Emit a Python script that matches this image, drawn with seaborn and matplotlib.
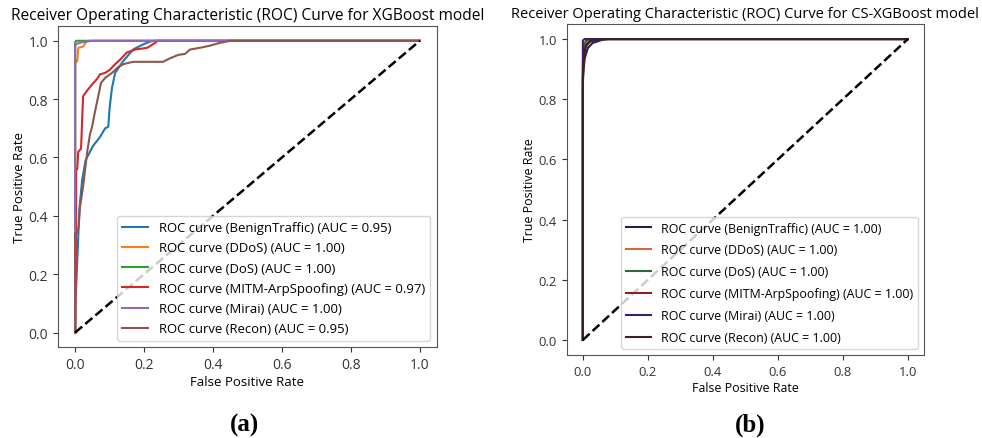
import numpy as np
import pandas as pd
import matplotlib
matplotlib.use("Agg")
import matplotlib.pyplot as plt
import seaborn as sns

classes = ["BenignTraffic", "DDoS", "DoS", "MITM-ArpSpoofing", "Mirai", "Recon"]

# Panel (a): XGBoost
auc_a = [0.95, 1.00, 1.00, 0.97, 1.00, 0.95]
fpr_a_benign = [0, 0.0, 0.003, 0.008, 0.012, 0.02, 0.03, 0.052, 0.072, 0.087, 0.096, 0.10, 0.107, 0.116, 0.136, 0.15, 0.168, 0.194, 0.217, 0.23, 1.0]
tpr_a_benign = [0, 0.10, 0.16, 0.30, 0.42, 0.52, 0.59, 0.64, 0.67, 0.70, 0.705, 0.77, 0.84, 0.89, 0.925, 0.945, 0.97, 0.986, 0.997, 1.0, 1.0]
fpr_a_ddos = [0, 0, 0.003, 0.006, 0.009, 0.023, 0.03, 0.035, 1.0]
tpr_a_ddos = [0, 0.92, 0.93, 0.93, 0.976, 0.98, 0.993, 1.0, 1.0]
fpr_a_dos = [0, 0, 0.003, 1.0]
tpr_a_dos = [0, 0.995, 1.0, 1.0]
fpr_a_mitm = [0, 0.002, 0.003, 0.006, 0.009, 0.017, 0.023, 0.035, 0.049, 0.064, 0.072, 0.087, 0.10, 0.116, 0.13, 0.15, 0.174, 0.209, 0.232, 0.24, 1.0]
tpr_a_mitm = [0, 0.20, 0.56, 0.56, 0.62, 0.63, 0.81, 0.83, 0.85, 0.87, 0.885, 0.89, 0.90, 0.92, 0.935, 0.96, 0.97, 0.976, 0.993, 1.0, 1.0]
fpr_a_mirai = [0, 0, 0.006, 0.02, 0.05, 1.0]
tpr_a_mirai = [0, 0.985, 0.99, 0.995, 1.0, 1.0]
fpr_a_recon = [0, 0, 0.005, 0.01, 0.014, 0.023, 0.03, 0.035, 0.043, 0.049, 0.058, 0.067, 0.075, 0.087, 0.107, 0.125, 0.14, 0.168, 0.209, 0.255, 0.275, 0.30, 0.319, 0.333, 0.362, 0.39, 0.42, 0.45, 1.0]
tpr_a_recon = [0, 0.34, 0.34, 0.36, 0.43, 0.50, 0.57, 0.62, 0.68, 0.705, 0.76, 0.81, 0.856, 0.873, 0.89, 0.91, 0.92, 0.928, 0.928, 0.928, 0.94, 0.952, 0.955, 0.97, 0.976, 0.983, 0.993, 1.0, 1.0]

# Panel (b): CS-XGBoost
auc_b = [1.00, 1.00, 1.00, 1.00, 1.00, 1.00]
fpr_b_benign = [0, 0, 0.002, 0.006, 0.015, 0.03, 0.058, 0.08, 1.0]
tpr_b_benign = [0, 0.85, 0.90, 0.937, 0.97, 0.987, 0.997, 1.0, 1.0]
fpr_b_ddos = [0, 0, 0.004, 0.012, 0.03, 1.0]
tpr_b_ddos = [0, 0.90, 0.97, 0.99, 1.0, 1.0]
fpr_b_dos = [0, 0, 0.003, 0.01, 0.025, 1.0]
tpr_b_dos = [0, 0.92, 0.98, 0.995, 1.0, 1.0]
fpr_b_mitm = [0, 0, 0.006, 0.02, 0.05, 1.0]
tpr_b_mitm = [0, 0.88, 0.97, 0.99, 1.0, 1.0]
fpr_b_mirai = [0, 0, 0.005, 1.0]
tpr_b_mirai = [0, 0.995, 1.0, 1.0]
fpr_b_recon = [0, 0, 0.004, 0.01, 0.025, 0.06, 1.0]
tpr_b_recon = [0, 0.87, 0.95, 0.98, 0.995, 1.0, 1.0]

colors_a = ["#1f77b4", "#ff7f0e", "#2ca02c", "#d62728", "#9467bd", "#8c564b"]
colors_b = ["#1b1f4b", "#d2693a", "#2e6b35", "#8b2323", "#3b1a78", "#3b2222"]

curves_a = [(fpr_a_benign, tpr_a_benign), (fpr_a_ddos, tpr_a_ddos), (fpr_a_dos, tpr_a_dos),
            (fpr_a_mitm, tpr_a_mitm), (fpr_a_mirai, tpr_a_mirai), (fpr_a_recon, tpr_a_recon)]
curves_b = [(fpr_b_benign, tpr_b_benign), (fpr_b_ddos, tpr_b_ddos), (fpr_b_dos, tpr_b_dos),
            (fpr_b_mitm, tpr_b_mitm), (fpr_b_mirai, tpr_b_mirai), (fpr_b_recon, tpr_b_recon)]


def build_df(curves, aucs):
    rows = []
    for cls, (f, t), a in zip(classes, curves, aucs):
        lab = f"ROC curve ({cls}) (AUC = {a:.2f})"
        for i, (fx, ty) in enumerate(zip(f, t)):
            rows.append({"label": lab, "fpr": fx, "tpr": ty, "order": i})
    return pd.DataFrame(rows)


plt.rcParams["font.family"] = ["Open Sans", "DejaVu Sans"]
fig = plt.figure(figsize=(9.82, 4.39), dpi=100)
ax_a = fig.add_axes([0.059, 0.207, 0.386, 0.731])
ax_b = fig.add_axes([0.577, 0.189, 0.364, 0.754])


def draw(ax, curves, aucs, colors, title, s, lsp):
    df = build_df(curves, aucs)
    labels = list(dict.fromkeys(df["label"]))
    sns.lineplot(data=df, x="fpr", y="tpr", hue="label", hue_order=labels,
                 palette=colors, sort=False, estimator=None, units="label",
                 linewidth=1.5, ax=ax)
    sns.lineplot(x=[0, 1], y=[0, 1], color="black", linestyle="--", linewidth=1.8, ax=ax)
    ax.set_xlim(-0.05, 1.05)
    ax.set_ylim(-0.05, 1.05)
    ax.set_xticks([0, 0.2, 0.4, 0.6, 0.8, 1.0])
    ax.set_yticks([0, 0.2, 0.4, 0.6, 0.8, 1.0])
    ax.set_xlabel("False Positive Rate", fontsize=9.5 * s, labelpad=2)
    ax.set_ylabel("True Positive Rate", fontsize=9.5 * s, labelpad=2)
    ax.set_title(title, fontsize=11.2 * s, pad=5)
    ax.tick_params(labelsize=10 * s, colors="#333333")
    for sp in ax.spines.values():
        sp.set_color("#555555")
    sns.move_legend(ax, "lower right", title=None, fontsize=9.45 * s, labelspacing=lsp)


draw(ax_a, curves_a, auc_a, colors_a, "Receiver Operating Characteristic (ROC) Curve for XGBoost model", 1.0, 0.55)
draw(ax_b, curves_b, auc_b, colors_b, "Receiver Operating Characteristic (ROC) Curve for CS-XGBoost model", 0.94, 0.72)

fig.text(0.249, 0.018, "(a)", fontsize=18, fontweight="bold", family="Liberation Serif", ha="center")
fig.text(0.764, 0.018, "(b)", fontsize=18, fontweight="bold", family="Liberation Serif", ha="center")

fig.savefig("out.png", dpi=100)
